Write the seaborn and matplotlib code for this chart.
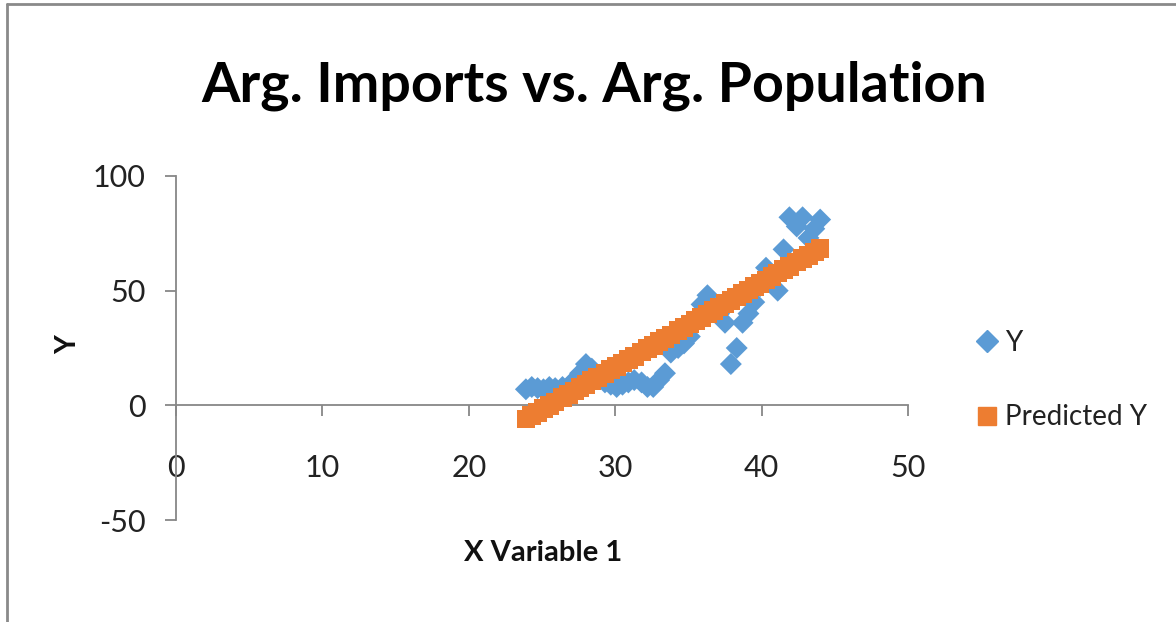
import matplotlib
matplotlib.use("Agg")
import matplotlib.pyplot as plt
import matplotlib.lines as mlines
import seaborn as sns
import pandas as pd

# Argentina population (millions) vs imports
x_pop = [23.9, 24.3, 24.7, 25.1, 25.5, 25.9, 26.4, 26.8, 27.2, 27.6,
         28.0, 28.4, 28.8, 29.3, 29.7, 30.1, 30.5, 30.9, 31.3, 31.8,
         32.2, 32.6, 33.0, 33.4, 33.8, 34.3, 34.7, 35.1, 35.5, 35.9,
         36.3, 36.7, 37.1, 37.5, 37.9, 38.3, 38.7, 39.1, 39.5, 39.9,
         40.3, 40.7, 41.1, 41.5, 41.9, 42.4, 42.8, 43.2, 43.6, 44.0]
y_obs = [7, 8, 7.5, 7, 8, 7.5, 8, 8, 11, 14,
         18, 16, 12, 10, 9, 8, 9, 10, 11, 10,
         8, 8, 11, 14, 23, 25, 27, 30, 38, 44,
         48, 42, 40, 36, 18, 25, 36, 40, 45, 52,
         60, 57, 50, 68, 82, 78, 82, 73, 77, 81]
y_pred = [-6.0, -4.5, -3.0, -1.5, -0.1, 1.4, 3.3, 4.8, 6.2, 7.7,
          9.2, 10.7, 12.2, 14.0, 15.5, 17.0, 18.5, 19.9, 21.4, 23.3,
          24.7, 26.2, 27.7, 29.2, 30.7, 32.5, 34.0, 35.5, 36.9, 38.4,
          39.9, 41.4, 42.9, 44.4, 45.8, 47.3, 48.8, 50.3, 51.8, 53.2,
          54.7, 56.2, 57.7, 59.2, 60.6, 62.5, 64.0, 65.4, 66.9, 68.4]
x_ticks = [0, 10, 20, 30, 40, 50]
y_ticks = [-50, 0, 50, 100]
series_names = ["Y", "Predicted Y"]

BLUE = "#5B9BD5"
ORANGE = "#ED7D31"

sns.set_theme(style="white")
FONT = ["Lato", "DejaVu Sans"]
plt.rcParams["font.family"] = FONT

df = pd.DataFrame({"x": x_pop, "Y": y_obs, "Predicted Y": y_pred})

fig = plt.figure(figsize=(11.76, 6.22), dpi=100)
ax = fig.add_axes([176/1176, 1 - 520/622, (908-176)/1176, (520-176)/622])

sns.scatterplot(data=df, x="x", y="Y", marker="D", s=125, color=BLUE,
                edgecolor="none", ax=ax, legend=False, zorder=3)
sns.scatterplot(data=df, x="x", y="Predicted Y", marker="s", s=180, color=ORANGE,
                edgecolor="none", ax=ax, legend=False, zorder=4)

ax.set_xlim(0, 50)
ax.set_ylim(-50, 100)
ax.set_xticks(x_ticks)
ax.set_yticks(y_ticks)
ax.set_xticklabels([str(v) for v in x_ticks])
ax.set_yticklabels([str(v) for v in y_ticks])

for s in ["top", "right"]:
    ax.spines[s].set_visible(False)
ax.spines["bottom"].set_position(("data", 0))
ax.spines["left"].set_color("#878787")
ax.spines["bottom"].set_color("#878787")
ax.spines["left"].set_linewidth(1.3)
ax.spines["bottom"].set_linewidth(1.3)
ax.spines["left"].set_zorder(1)
ax.spines["bottom"].set_zorder(1)

ax.tick_params(axis="y", direction="out", length=8, width=1.3, color="#878787",
               pad=14, labelsize=22, labelcolor="#222222", left=True)
ax.tick_params(axis="x", direction="out", length=8, width=1.3, color="#878787",
               pad=27, labelsize=22, labelcolor="#222222", bottom=True)
ax.grid(False)

ax.set_xlabel("")
ax.set_ylabel("")
fig.text(543/1176, 1 - 553/622, "X Variable 1", ha="center", va="center",
         fontsize=21, fontweight="bold", color="#111111")
fig.text(68/1176, 1 - 345/622, "Y", ha="center", va="center", rotation=90,
         fontsize=21, fontweight="bold", color="#111111")
fig.text(594/1176, 1 - 86/622, "Arg. Imports vs. Arg. Population",
         ha="center", va="center", fontsize=40, fontweight="bold", color="#000000")

handles = [mlines.Line2D([], [], marker="D", linestyle="none", color=BLUE, markersize=11),
           mlines.Line2D([], [], marker="s", linestyle="none", color=ORANGE, markersize=13)]
fig.legend(handles, series_names, loc="center left",
           bbox_to_anchor=(948/1176, 1 - 380/622), frameon=False,
           fontsize=20, labelspacing=1.75, handletextpad=0.15, handlelength=1.0,
           labelcolor="#222222")

# chart-area border (left and top edges visible)
fig.add_artist(mlines.Line2D([7/1176, 7/1176], [0, 1 - 4/622], transform=fig.transFigure,
                             color="#8a8a8a", linewidth=2))
fig.add_artist(mlines.Line2D([7/1176, 1], [1 - 4/622, 1 - 4/622], transform=fig.transFigure,
                             color="#8a8a8a", linewidth=2))

fig.savefig("out.png", dpi=100)
